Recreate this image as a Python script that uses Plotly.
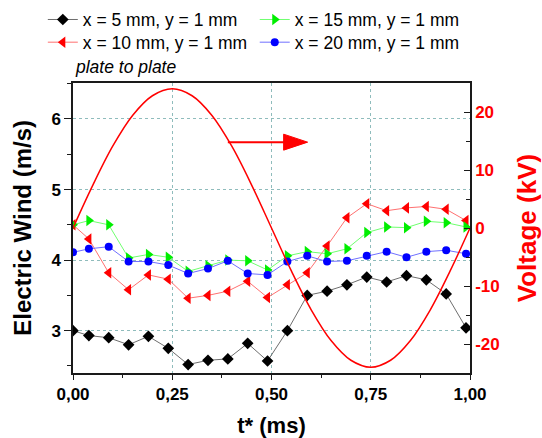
import plotly.graph_objects as go

# ---- data ----
t_ms = [0.00, 0.04, 0.09, 0.14, 0.19, 0.24, 0.29, 0.34, 0.39, 0.44, 0.49,
        0.54, 0.59, 0.64, 0.69, 0.74, 0.79, 0.84, 0.89, 0.94, 0.99]

wind_x5 = [3.00, 2.93, 2.90, 2.80, 2.92, 2.75, 2.52, 2.58, 2.60, 2.82, 2.57,
           3.00, 3.50, 3.56, 3.65, 3.76, 3.69, 3.78, 3.72, 3.52, 3.04]
wind_x10 = [4.50, 4.30, 3.82, 3.58, 3.79, 3.73, 3.46, 3.50, 3.56, 3.70, 3.47,
            3.65, 3.82, 4.20, 4.60, 4.80, 4.70, 4.74, 4.76, 4.72, 4.56]
wind_x15 = [4.50, 4.56, 4.50, 4.03, 4.08, 4.04, 3.84, 3.92, 4.00, 3.99, 3.86,
            4.06, 4.12, 4.09, 4.16, 4.39, 4.47, 4.46, 4.55, 4.53, 4.47]
wind_x20 = [4.11, 4.16, 4.19, 3.98, 3.98, 3.93, 3.81, 3.88, 3.99, 3.81, 3.79,
            3.98, 4.06, 3.98, 3.99, 4.06, 4.12, 4.04, 4.12, 4.14, 4.09]

t_volt = [0.00, 0.05, 0.10, 0.15, 0.20, 0.25, 0.30, 0.35, 0.40, 0.45, 0.50,
          0.55, 0.60, 0.65, 0.70, 0.75, 0.80, 0.85, 0.90, 0.95, 1.00]
voltage_kv = [0.0, 7.4, 14.1, 19.4, 22.8, 24.0, 22.8, 19.4, 14.1, 7.4, 0.0,
              -7.4, -14.1, -19.4, -22.8, -24.0, -22.8, -19.4, -14.1, -7.4, 0.0]

series_names = ["x = 5 mm, y = 1 mm", "x = 10 mm, y = 1 mm",
                "x = 15 mm, y = 1 mm", "x = 20 mm, y = 1 mm"]

x_tickvals = [0, 0.25, 0.5, 0.75, 1.0]
y_tickvals = [3, 4, 5, 6]
y2_tickvals = [-20, -10, 0, 10, 20]
y2_ticktext = ["-20", "-10", "0", "10", "20"]

FONT = "Liberation Sans, Arial, sans-serif"

fig = go.Figure()

styles = [
    # data, name, marker symbol, marker colour, line colour, size, legend id
    (wind_x5, series_names[0], "diamond", "#000000", "#6e6e6e", 9, "legend"),
    (wind_x10, series_names[1], "triangle-left", "#ff0000", "#ff7070", 10, "legend2"),
    (wind_x15, series_names[2], "triangle-right", "#00ee00", "#70ff70", 10, "legend3"),
    (wind_x20, series_names[3], "circle", "#0000ff", "#7070ff", 8, "legend4"),
]
for vals, name, sym, mc, lc, sz, lg in styles:
    fig.add_trace(go.Scatter(
        x=t_ms, y=vals, name=name, mode="lines+markers", legend=lg,
        line=dict(color=lc, width=1),
        marker=dict(symbol=sym, color=mc, size=sz, line=dict(width=0)),
        yaxis="y",
    ))

fig.add_trace(go.Scatter(
    x=t_volt, y=voltage_kv, mode="lines", showlegend=False,
    line=dict(color="#ff0000", width=1.5, shape="spline", smoothing=1.0),
    yaxis="y2",
))

axis_line = dict(showline=True, linecolor="#1a1a1a", linewidth=1.5)
grid = dict(showgrid=True, gridcolor="#8fbcbc", griddash="dot", gridwidth=1)


def legend_box(x, y):
    return dict(
        orientation="v", xref="container", yref="container",
        x=x, y=y, xanchor="left", yanchor="top",
        font=dict(size=17.5, family=FONT, color="#000000"),
        bgcolor="rgba(0,0,0,0)", borderwidth=0,
    )


fig.update_layout(
    width=542, height=438,
    margin=dict(l=73, r=72, t=83, b=65, autoexpand=False),
    paper_bgcolor="white", plot_bgcolor="white",
    separators=",.",
    font=dict(family=FONT, color="#000000"),
    xaxis=dict(
        range=[0, 1], tickmode="array", tickvals=x_tickvals, tickformat=".2f",
        ticks="outside", ticklen=5, tickwidth=1.2, tickcolor="#1a1a1a",
        minor=dict(dtick=0.125, tick0=0, ticks="outside", ticklen=3,
                   tickcolor="#1a1a1a", showgrid=False),
        mirror=True, zeroline=False,
        tickfont=dict(size=17, family=FONT, weight="bold"),
        title=dict(text="t* (ms)", font=dict(size=22, family=FONT, weight="bold"),
                   standoff=16),
        **axis_line, **grid,
    ),
    yaxis=dict(
        range=[2.4, 6.51], tickmode="array", tickvals=y_tickvals,
        ticks="outside", ticklen=7, tickwidth=1.2, tickcolor="#1a1a1a",
        minor=dict(dtick=0.5, tick0=0, ticks="outside", ticklen=4,
                   tickcolor="#1a1a1a", showgrid=False),
        zeroline=False,
        tickfont=dict(size=17, family=FONT, weight="bold"),
        **axis_line, **grid,
    ),
    yaxis2=dict(
        overlaying="y", side="right", range=[-25, 25],
        tickmode="array", tickvals=y2_tickvals, ticktext=y2_ticktext,
        ticks="inside", ticklen=6, tickwidth=1.2, tickcolor="#1a1a1a",
        minor=dict(tickvals=[-15, -5, 5, 15], ticks="inside", ticklen=4,
                   tickcolor="#1a1a1a", showgrid=False),
        showgrid=False, zeroline=False,
        tickfont=dict(size=17, family=FONT, weight="bold", color="#ff0000"),
        title=dict(text="Voltage (kV)",
                   font=dict(size=26, family=FONT, weight="bold", color="#ff0000"),
                   standoff=20),
        **axis_line,
    ),
    legend=legend_box(0.079, 0.9963),
    legend2=legend_box(0.079, 0.9445),
    legend3=legend_box(0.470, 0.9963),
    legend4=legend_box(0.470, 0.9445),
    showlegend=True,
)

# left axis title
fig.add_annotation(
    text="<b>Electric Wind (m/s)</b>", xref="paper", yref="paper",
    x=-0.129, y=0.5, xanchor="center", yanchor="middle", textangle=-90,
    showarrow=False, font=dict(size=24, family=FONT, color="#000000"),
)

# "plate to plate" note
fig.add_annotation(
    text="<i>plate to plate</i>", xref="paper", yref="paper",
    x=0.0, y=1.055, xanchor="left", yanchor="middle", showarrow=False,
    font=dict(size=17.5, family=FONT, color="#000000"),
)

# arrow pointing to the voltage axis
fig.add_shape(type="line", xref="x", yref="y2", x0=0.39, x1=0.54, y0=14.8, y1=14.8,
              line=dict(color="#ff0000", width=2))
fig.add_shape(type="path", xref="x", yref="y2", xsizemode="pixel", ysizemode="pixel",
              xanchor=0.591, yanchor=14.8, path="M-24,-8 L0,0 L-24,8 Z",
              fillcolor="#ff0000", line=dict(color="#ff0000", width=1))

fig.write_html("out.html")
